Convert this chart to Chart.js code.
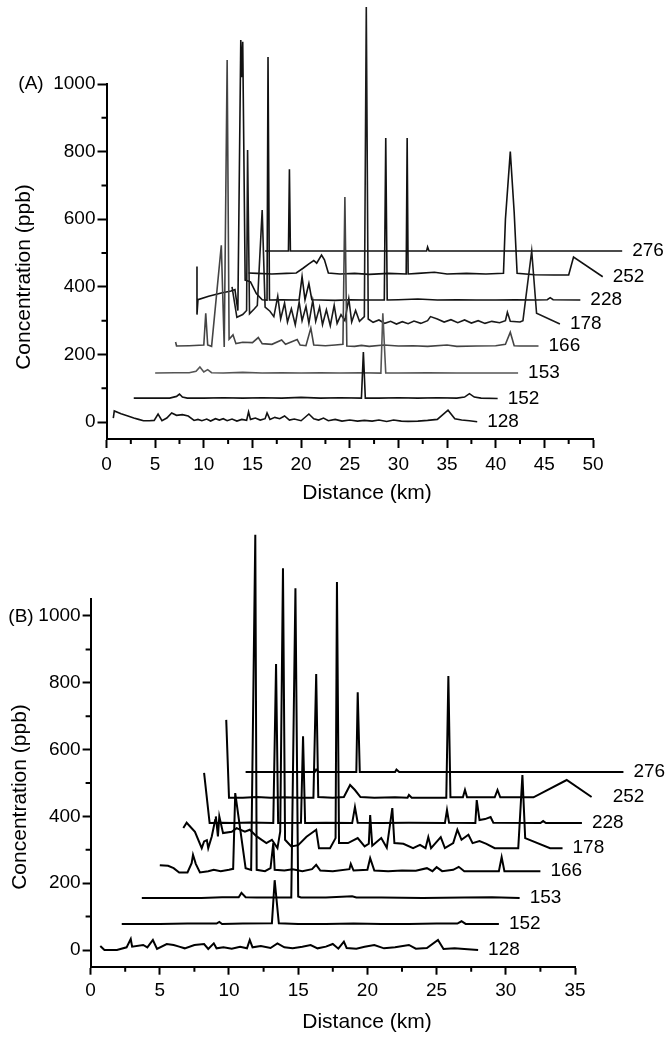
<!DOCTYPE html>
<html>
<head>
<meta charset="utf-8">
<script src="https://cdn.jsdelivr.net/npm/chart.js@4.4.1/dist/chart.umd.min.js"></script>
<style>
  body { margin: 0; background: #fff; }
  canvas { position: absolute; left: 0; }
  #chartA { top: 0; }
  #chartB { top: 505px; }
</style>
</head>
<body>
<canvas id="chartA" width="672" height="505"></canvas>
<canvas id="chartB" width="672" height="545"></canvas>
<script>
// m/z of each trace, bottom to top
const seriesLabels = ["128", "152", "153", "166", "178", "228", "252", "276"];

// ---- panel A : [distance km, concentration ppb] ----
const A128 = [[0.7,12],[0.8,33],[1.5,25],[2.2,18],[2.8,12],[3.3,8],[3.8,4],[4.4,4],[4.9,5],[5.3,24],[5.7,4],[6.2,12],[6.7,27],[7.2,20],[7.8,22],[8.4,18],[9.0,5],[9.4,8],[9.8,4],[10.3,9],[10.7,3],[11.2,10],[11.6,6],[12.0,10],[12.4,4],[12.9,9],[13.4,3],[13.9,8],[14.4,5],[14.6,30],[14.8,8],[15.3,12],[15.8,6],[16.3,10],[16.5,27],[16.8,8],[17.3,14],[17.8,10],[18.3,18],[18.8,6],[19.3,9],[20.0,4],[20.8,24],[21.3,10],[21.8,6],[22.3,12],[22.8,4],[23.5,8],[24.2,3],[25.0,6],[25.8,3],[26.5,5],[27.3,3],[28.0,6],[28.8,2],[29.5,6],[30.3,3],[31.0,2],[32.0,3],[33.0,5],[34.0,8],[35.1,35],[35.8,10],[36.5,6],[37.3,4],[38.1,1]];
const A152 = [[2.8,71],[5.0,71],[6.5,71],[7.2,76],[7.5,83],[7.8,74],[8.3,71],[10,71],[12,72],[14,71],[16,72],[18,71],[20,73],[22,71],[24,72],[26.2,71],[26.4,207],[26.6,71],[28,71],[30,72],[32,71],[34,72],[36,71],[36.8,74],[37.3,84],[37.8,74],[38.5,71],[40.2,70]];
const A153 = [[5.0,145],[7,146],[8.5,146],[9.2,150],[9.6,163],[10.0,148],[10.4,155],[10.8,146],[12,145],[14,147],[16,145],[18,146],[20,145],[22,146],[24,145],[26,146],[28.2,145],[28.4,322],[28.7,145],[30,145],[33,146],[36,145],[39,145],[42.3,145]];
const A166 = [[7.1,237],[7.2,225],[8.5,226],[10.0,228],[10.2,322],[10.4,228],[10.8,224],[11.8,523],[12.1,222],[12.4,1071],[12.6,245],[13.0,258],[13.3,232],[14.0,236],[15.0,235],[15.6,250],[16.0,232],[17.0,230],[18.0,243],[18.4,230],[19.6,244],[19.9,228],[20.5,226],[21.0,278],[21.3,228],[22.5,226],[23.5,228],[24.3,230],[24.5,666],[24.7,225],[25.5,224],[26.2,227],[27,224],[28.5,228],[30,225],[31.5,226],[33,224],[35,228],[36,224],[38,225],[40,226],[41.0,230],[41.5,266],[41.9,226],[42.5,225],[44.4,225]];
const A178 = [[12.9,400],[13.4,310],[14.0,318],[14.4,330],[14.5,805],[14.7,320],[15.2,335],[15.5,345],[16.0,627],[16.3,340],[16.8,328],[17.2,312],[17.6,372],[17.9,305],[18.3,352],[18.6,296],[19.0,335],[19.4,288],[19.8,355],[20.1,300],[20.5,342],[20.8,292],[21.2,360],[21.5,298],[21.9,340],[22.2,288],[22.6,332],[23.0,285],[23.4,345],[23.7,292],[24.1,318],[24.5,300],[24.9,365],[25.2,296],[25.6,330],[26.0,298],[26.5,312],[26.7,1228],[26.9,305],[27.4,295],[28.0,302],[28.6,292],[29.2,298],[29.8,290],[30.4,297],[31.0,291],[31.6,299],[32.3,292],[33.0,300],[33.3,312],[34.0,305],[34.7,296],[35.4,303],[36.1,294],[36.8,302],[37.5,293],[38.2,300],[38.9,292],[39.6,298],[40.4,294],[41.0,300],[41.2,325],[41.5,298],[42.5,296],[42.8,300],[43.7,506],[44.2,322],[46.6,290]];
const A228 = [[9.3,460],[9.3,318],[9.4,362],[10.5,372],[11.8,382],[12.8,388],[13.2,392],[13.5,330],[13.8,1130],[13.9,1020],[14.0,1125],[14.25,420],[14.8,415],[15.4,380],[16.0,362],[16.5,361],[16.6,1080],[16.75,361],[18,362],[19.5,361],[19.8,362],[20.1,430],[20.4,362],[20.8,410],[21.1,362],[22,361],[23.5,360],[25,362],[26.5,361],[28.55,361],[28.7,840],[28.85,361],[30,362],[32,364],[34,361],[36,362],[38,361],[40,361],[42,362],[44,361],[45.3,362],[45.6,368],[45.9,362],[48.7,361]];
const A252 = [[14.6,441],[15.5,440],[17,438],[18.5,440],[19.5,441],[20.2,455],[20.8,468],[21.3,478],[21.6,470],[22.1,494],[22.4,480],[22.8,441],[24,438],[25.5,440],[27,437],[29,440],[30.8,438],[30.9,840],[31.0,438],[32,440],[33.7,443],[35,438],[37,440],[39,438],[40.8,440],[41.0,600],[41.5,800],[41.9,620],[42.2,440],[44,436],[46,435],[47.5,435],[48.0,488],[51.0,430]];
const A276 = [[16.3,506],[18.7,506],[18.8,748],[18.9,506],[22,506],[25,506],[29,506],[32.9,506],[33.0,518],[33.15,506],[38,506],[45,506],[53,506]];

// ---- panel B ----
const B128 = [[0.7,12],[1.0,0],[1.9,0],[2.6,8],[2.9,33],[3.0,10],[3.8,15],[4.1,8],[4.5,30],[4.8,3],[5.5,18],[6.0,15],[6.4,10],[6.8,5],[7.5,15],[8.2,18],[8.5,3],[8.9,20],[9.1,5],[9.6,8],[10.2,4],[10.8,10],[11.3,5],[11.5,30],[11.7,8],[12.3,12],[13.0,6],[13.5,20],[14.0,8],[14.6,5],[15.3,10],[15.9,15],[16.4,5],[17.0,10],[17.5,18],[17.9,4],[18.3,25],[18.5,6],[19.2,4],[19.8,10],[20.5,15],[21.2,5],[22.0,8],[23.0,15],[23.5,4],[24.3,6],[25.1,30],[25.5,3],[26.3,5],[27.0,3],[28.0,0]];
const B152 = [[2.25,78],[5,78],[7,79],[9.1,79],[9.3,84],[9.5,78],[11,79],[13.1,80],[13.3,209],[13.6,80],[15,78],[17,78],[19,79],[21,78],[23,78],[25,79],[26.5,79],[26.8,86],[27.1,78],[29.5,78]];
const B153 = [[3.7,156],[6,156],[8,156],[9.5,158],[10.7,158],[10.9,171],[11.2,158],[12,157],[14.5,157],[14.8,1083],[15.0,160],[15.2,157],[17,157],[18.9,161],[19.2,157],[21,157],[24,156],[27,157],[29,158],[31,156]];
const B166 = [[5.0,254],[5.6,252],[6.0,245],[6.4,232],[7.0,232],[7.3,260],[7.4,285],[7.6,258],[7.9,232],[8.5,236],[8.9,240],[9.4,236],[10.0,240],[10.3,243],[10.45,470],[11.2,245],[11.6,240],[11.9,1243],[12.0,240],[12.6,236],[13.0,245],[13.2,320],[13.3,240],[14.0,238],[14.6,242],[15.3,236],[16.0,242],[16.3,255],[16.6,238],[17.5,236],[18.7,242],[18.8,258],[19.0,238],[20.0,240],[20.2,275],[20.5,238],[21.5,236],[22.5,238],[23.5,237],[24.3,245],[24.7,236],[25.0,248],[25.4,236],[26.2,240],[26.6,249],[27.0,236],[28,236],[29.5,236],[29.7,278],[29.9,236],[32.5,236]];
const B178 = [[6.7,365],[6.94,381],[7.54,354],[8.03,305],[8.2,325],[8.4,329],[8.5,305],[8.75,339],[9.0,389],[9.05,400],[9.2,340],[9.3,400],[9.57,350],[10.2,354],[10.55,365],[11.15,354],[11.5,360],[12.0,340],[12.7,320],[13.1,330],[13.5,305],[13.7,354],[13.9,1143],[14.05,330],[14.5,310],[15.0,314],[15.6,339],[16.1,354],[16.3,360],[16.5,305],[17.3,305],[17.7,335],[17.8,1102],[17.95,320],[18.6,320],[19.3,335],[19.8,310],[20.1,318],[20.2,404],[20.35,312],[21.0,335],[21.4,306],[21.8,425],[21.95,320],[22.6,318],[23.3,305],[23.8,315],[24.2,305],[24.4,338],[24.6,305],[25.3,338],[25.6,305],[26.2,320],[26.5,360],[26.8,330],[27.3,345],[27.6,320],[28.1,326],[28.6,318],[29.2,305],[30.9,305],[31.2,524],[31.4,335],[33.2,305],[34.1,305]];
const B228 = [[8.2,530],[8.6,380],[9.5,381],[10.4,380],[11.5,382],[13.2,380],[13.4,856],[13.55,380],[15.2,381],[15.35,640],[15.5,380],[17,381],[18.9,380],[19.1,428],[19.3,381],[21,380],[23,381],[25.6,380],[25.75,419],[25.9,381],[27.8,380],[27.9,449],[28.1,389],[28.5,392],[28.9,398],[29.1,381],[32.5,380],[32.7,386],[32.9,380],[35.5,380]];
const B252 = [[9.8,689],[10.0,456],[11,456],[12,458],[13,456],[14,457],[15,456],[16.1,456],[16.3,826],[16.45,458],[17.5,456],[18.3,458],[18.75,494],[19.1,479],[19.5,458],[20.5,456],[22,457],[22.9,456],[23.0,464],[23.2,456],[25.7,456],[25.85,820],[26.0,457],[26.9,457],[27.05,479],[27.2,457],[29.2,457],[29.4,479],[29.6,457],[31,457],[32,457],[34.4,509],[36.2,458],[37,458]];
const B276 = [[11.2,533],[13,533],[16.2,533],[16.3,540],[16.5,533],[19.2,533],[19.3,772],[19.45,533],[22.0,533],[22.1,540],[22.3,533],[30,533],[38.5,533]];

// minor tick values
const xMinorA = [2.5, 7.5, 12.5, 17.5, 22.5, 27.5, 32.5, 37.5, 42.5, 47.5];
const xMinorB = [2.5, 7.5, 12.5, 17.5, 22.5, 27.5, 32.5];
const yMinor = [100, 300, 500, 700, 900];

const FONT = '"Liberation Sans", Arial, Helvetica, sans-serif';

const panelPlugin = {
  id: "panel",
  afterDraw(chart, args, o) {
    const { ctx } = chart;
    const x = chart.scales.x, y = chart.scales.y;
    ctx.save();
    // minor ticks
    ctx.strokeStyle = "#000";
    ctx.lineWidth = 2;
    ctx.beginPath();
    o.xMinor.forEach((v) => {
      const px = x.getPixelForValue(v);
      ctx.moveTo(px, y.bottom);
      ctx.lineTo(px, y.bottom + o.minorLen);
    });
    o.yMinor.forEach((v) => {
      const py = y.getPixelForValue(v);
      ctx.moveTo(x.left, py);
      ctx.lineTo(x.left - o.minorLen, py);
    });
    ctx.stroke();

    // trace labels at the end of each line
    ctx.fillStyle = "#000";
    ctx.textBaseline = "middle";
    ctx.textAlign = "left";
    ctx.font = "19px " + FONT;
    chart.data.datasets.forEach((ds, i) => {
      const pts = chart.getDatasetMeta(i).data;
      const last = pts[pts.length - 1];
      ctx.fillText(ds.label, last.x + 10, last.y);
    });

    // panel tag
    ctx.textAlign = "center";
    ctx.fillText(o.tag, o.tagX, o.tagY);

    // axis titles
    ctx.font = "21px " + FONT;
    ctx.fillText("Distance (km)", o.xTitleX, o.xTitleY);
    ctx.translate(o.yTitleX, o.yTitleY);
    ctx.rotate(-Math.PI / 2);
    ctx.fillText("Concentration (ppb)", 0, 0);
    ctx.restore();
  },
};

function makeChart(id, series, colors, lineW, xMax, yMax, box, tickLen, textOpts) {
  const datasets = series.map((s, i) => ({
    label: seriesLabels[i],
    data: s.map((p) => ({ x: p[0], y: p[1] })),
    borderColor: colors[i],
    borderWidth: lineW,
    pointRadius: 0,
    tension: 0,
    fill: false,
    clip: false,
  }));
  return new Chart(document.getElementById(id), {
    type: "line",
    data: { datasets: datasets },
    plugins: [panelPlugin],
    options: {
      responsive: false,
      animation: false,
      layout: { padding: { left: 0, right: box.right, top: box.top, bottom: 0 } },
      plugins: {
        legend: { display: false },
        tooltip: { enabled: false },
        panel: textOpts,
      },
      scales: {
        x: {
          type: "linear",
          min: 0,
          max: xMax,
          afterFit: (s) => { s.height = box.xHeight; },
          grid: { drawOnChartArea: false, drawTicks: true, tickLength: tickLen, tickWidth: 2, tickColor: "#000" },
          border: { display: true, color: "#000", width: 2 },
          ticks: { stepSize: 5, color: "#000", font: { size: 19, family: FONT }, padding: 5, maxRotation: 0, autoSkip: false,
                   callback: (v) => String(v) },
        },
        y: {
          type: "linear",
          min: -50,
          max: yMax,
          afterFit: (s) => { s.width = box.left; },
          grid: { drawOnChartArea: false, drawTicks: true, tickLength: tickLen, tickWidth: 2, tickColor: "#000" },
          border: { display: true, color: "#000", width: 2 },
          ticks: { stepSize: 200, includeBounds: false, color: "#000", font: { size: 19, family: FONT }, padding: 2,
                   callback: (v) => String(v) },
        },
      },
    },
  });
}

makeChart("chartA",
  [A128, A152, A153, A166, A178, A228, A252, A276],
  ["#111", "#111", "#555", "#444", "#1a1a1a", "#111", "#111", "#111"],
  1.6, 50, 1000,
  { left: 106.5, right: 79, top: 84, xHeight: 66 }, 9,
  { xMinor: xMinorA, yMinor: yMinor, minorLen: 5, tag: "(A)", tagX: 31, tagY: 84,
    xTitleX: 367, xTitleY: 493, yTitleX: 24, yTitleY: 277 });

makeChart("chartB",
  [B128, B152, B153, B166, B178, B228, B252, B276],
  ["#000", "#000", "#000", "#000", "#000", "#000", "#000", "#000"],
  2, 35, 1050,
  { left: 90.6, right: 97, top: 94.3, xHeight: 83.3 }, 8,
  { xMinor: xMinorB, yMinor: yMinor, minorLen: 5, tag: "(B)", tagX: 21, tagY: 112,
    xTitleX: 367, xTitleY: 517, yTitleX: 20, yTitleY: 292 });
</script>
</body>
</html>
